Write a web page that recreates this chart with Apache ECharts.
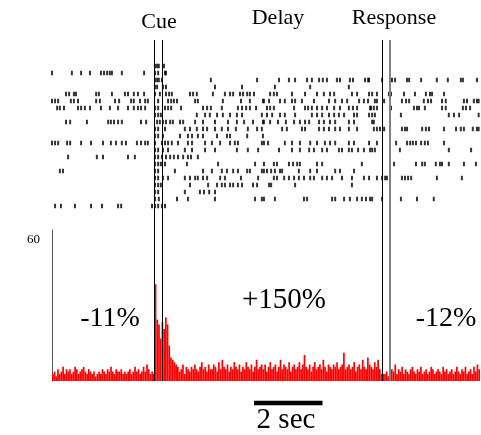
<!DOCTYPE html>
<html>
<head>
<meta charset="utf-8">
<script src="https://cdn.jsdelivr.net/npm/echarts@6/dist/echarts.min.js"></script>
<style>
  html, body { margin: 0; padding: 0; background: #fff; }
  #rasterChart { width: 481px; height: 435px; }
</style>
</head>
<body>
<div id="rasterChart"></div>
<script>
  // spike times (s from start of the window), one list per trial, top to bottom
  var trialSpikes = [
    [3.01, 3.07, 3.12, 3.27],
    [0.00, 0.58, 0.85, 1.11, 1.43, 1.52, 1.61, 1.69, 1.75, 2.04, 2.69, 3.01, 3.10, 3.30, 3.33],
    [3.01, 3.07, 3.12, 3.21, 4.64, 5.99, 6.63, 6.92, 7.10, 7.45, 7.59, 7.80, 7.91, 8.03, 8.32, 8.41, 8.70, 8.79, 9.14, 9.23, 9.26, 9.64, 9.93, 10.02, 10.37, 10.43, 10.78, 11.24, 11.56, 11.94, 12.00, 12.41],
    [3.01, 3.07, 3.24, 3.33, 4.76, 5.55, 6.51, 7.54, 8.67],
    [0.41, 0.50, 0.64, 0.70, 1.29, 1.37, 1.75, 2.13, 2.22, 2.39, 2.51, 2.69, 3.01, 3.15, 3.33, 3.42, 3.50, 4.03, 4.12, 4.23, 4.70, 5.05, 5.20, 5.29, 5.49, 5.58, 5.70, 5.78, 5.90, 6.37, 6.48, 6.57, 7.01, 7.39, 7.74, 7.94, 8.12, 8.24, 8.76, 8.91, 9.26, 9.35, 9.49, 9.84, 9.90, 10.28, 10.60, 10.92, 11.04, 11.10, 11.45],
    [0.00, 0.09, 0.18, 0.55, 0.64, 0.76, 1.29, 1.40, 1.84, 1.96, 2.31, 2.39, 2.57, 2.72, 2.80, 3.10, 3.39, 3.48, 3.56, 3.65, 4.18, 4.26, 4.99, 5.52, 5.78, 6.16, 6.19, 6.34, 6.66, 6.80, 7.01, 7.10, 7.30, 7.65, 8.09, 8.27, 8.47, 8.62, 8.97, 9.11, 9.23, 9.43, 9.49, 9.70, 10.22, 10.34, 10.43, 10.86, 10.98, 11.07, 11.39, 11.50, 12.03, 12.12, 12.32, 12.41, 12.46],
    [0.15, 0.23, 0.35, 0.76, 0.85, 0.96, 1.11, 1.43, 1.69, 1.93, 2.22, 2.39, 2.51, 2.60, 2.72, 3.01, 3.10, 3.30, 3.39, 3.48, 3.77, 4.41, 4.53, 4.64, 4.96, 5.43, 5.55, 5.67, 5.78, 5.96, 6.28, 6.37, 6.48, 7.07, 7.39, 7.48, 7.59, 7.74, 7.89, 8.03, 8.24, 8.41, 8.67, 8.79, 8.91, 9.29, 9.32, 9.40, 9.49, 9.90, 10.57, 10.66, 10.72, 10.89, 11.39, 11.50, 12.00, 12.09, 12.21],
    [3.01, 3.10, 3.18, 4.23, 4.47, 4.61, 4.82, 4.99, 5.20, 5.40, 5.55, 6.13, 6.28, 6.43, 6.66, 6.80, 7.10, 7.59, 7.74, 7.89, 8.09, 8.24, 8.38, 8.53, 8.82, 8.91, 9.26, 9.35, 9.43, 10.19, 11.59, 11.74, 11.89, 12.46],
    [0.41, 0.53, 1.02, 1.64, 1.72, 1.81, 1.93, 2.04, 2.60, 2.75, 3.07, 3.15, 3.24, 3.33, 3.45, 3.53, 3.74, 3.83, 4.18, 4.41, 4.76, 5.14, 5.40, 5.61, 5.87, 6.16, 6.19, 6.37, 6.60, 6.83, 7.07, 7.24, 7.39, 7.51, 7.80, 7.94, 8.12, 8.27, 8.67, 8.82, 9.35, 9.40],
    [3.01, 3.10, 3.30, 3.88, 4.03, 4.23, 4.41, 4.53, 4.76, 4.96, 5.14, 5.37, 5.72, 5.99, 6.13, 6.72, 6.86, 7.30, 7.39, 7.80, 7.94, 8.09, 8.27, 8.41, 8.67, 8.91, 9.40, 9.49, 9.58, 9.70, 10.22, 10.31, 10.37, 10.81, 10.92, 11.01, 11.45, 11.80, 11.94, 12.03, 12.29, 12.41, 12.46],
    [3.01, 3.10, 3.24, 3.74, 3.97, 4.09, 4.26, 4.41, 4.82, 5.11, 5.20, 5.70, 6.16],
    [0.00, 0.09, 0.18, 0.44, 0.53, 0.85, 1.14, 1.49, 1.72, 1.87, 2.04, 2.16, 2.48, 2.60, 2.72, 2.80, 3.01, 3.21, 3.30, 3.39, 3.50, 3.68, 3.97, 4.09, 4.47, 4.67, 4.91, 5.20, 5.34, 5.43, 6.13, 6.19, 6.31, 6.80, 7.01, 7.24, 7.54, 7.74, 7.97, 8.12, 8.27, 8.67, 8.82, 9.26, 9.49, 10.05, 10.37, 10.46, 10.54, 10.63, 10.78, 10.89, 10.98, 11.45],
    [3.01, 3.10, 3.24, 3.39, 3.88, 4.09, 4.47, 4.76, 5.40, 5.72, 6.02, 6.63, 7.01, 7.24, 7.51, 7.65, 7.89, 8.03, 8.38, 8.47, 8.67, 8.76, 8.94, 9.11, 9.29, 9.35, 9.43, 10.16, 11.59, 12.24],
    [0.47, 1.31, 1.49, 2.22, 2.42, 3.01, 3.10, 3.21, 3.33, 3.45, 3.56, 3.68, 3.83, 3.97, 4.06, 4.26],
    [3.01, 3.10, 3.18, 3.30, 3.94, 4.85, 5.93, 6.19, 6.48, 6.57, 6.92, 7.04, 7.16, 7.24, 7.74, 7.89, 9.05, 9.99, 10.63, 10.81, 10.89, 11.21, 11.33, 11.39, 11.59, 12.03, 12.38],
    [0.23, 0.32, 3.01, 3.10, 3.59, 4.41, 4.67, 4.96, 5.11, 5.29, 5.43, 5.70, 5.78, 6.13, 6.19, 6.28, 6.40, 6.51, 6.66, 6.72, 7.21, 7.54, 7.74, 8.27, 8.41, 8.82],
    [3.01, 3.10, 3.24, 3.39, 3.88, 4.03, 4.18, 4.26, 4.41, 4.53, 4.91, 5.05, 5.52, 6.02, 6.48, 6.57, 6.78, 6.92, 7.07, 7.21, 7.36, 7.54, 7.65, 7.89, 8.03, 8.18, 8.47, 8.76, 9.11, 9.26, 9.49, 9.64, 9.73, 9.78, 10.22, 10.31, 10.40, 10.49, 11.24, 11.97],
    [3.01, 3.10, 3.18, 4.03, 4.56, 4.82, 4.96, 5.05, 5.20, 5.29, 5.43, 5.55, 5.87, 5.99, 6.34, 6.40, 7.10, 8.76],
    [3.01, 3.10, 3.88, 4.32, 4.44, 4.59, 4.76],
    [3.01, 3.12, 3.65, 3.97, 4.76, 5.93, 6.13, 6.19, 6.51, 7.36, 7.45, 8.18, 8.27, 8.53, 8.70, 8.91, 9.05, 9.17, 9.29, 9.35, 9.64, 10.19, 10.66, 11.15],
    [0.09, 0.26, 0.67, 1.14, 1.46, 1.93, 2.02, 2.92, 3.01, 3.10, 3.21, 3.30]
  ]

  // firing rate (spikes/s), 50 ms bins
  var psthRate = [
    3, 4, 2, 5, 3, 4, 6, 3, 5, 4,
    5, 3, 4, 6, 5, 3, 4, 5, 6, 4,
    3, 5, 4, 3, 4, 2, 3, 4, 3, 5,
    4, 3, 5, 4, 6, 4, 3, 5, 4, 4,
    5, 3, 4, 3, 4, 5, 3, 4, 6, 4,
    5, 3, 4, 6, 4, 7, 5, 3, 4, 3,
    41, 26, 24, 18, 25, 22, 27, 24, 15, 10, 9, 8, 7,
    6, 4, 5, 7, 3, 6, 5, 4, 6, 5,
    7, 5, 4, 6, 8, 5, 6, 4, 7, 5,
    5, 7, 6, 4, 8, 5, 9, 6, 5, 7,
    4, 6, 5, 8, 6, 5, 7, 4, 6, 5,
    8, 6, 5, 7, 4, 6, 9, 5, 6, 7,
    5, 7, 4, 6, 8, 5, 6, 7, 4, 6,
    9, 5, 7, 6, 5, 8, 4, 6, 7, 5,
    6, 8, 5, 7, 11, 6, 5, 7, 4, 6,
    8, 5, 6, 7, 5, 9, 6, 4, 7, 6,
    5, 7, 6, 8, 5, 6, 7, 12, 5, 6,
    7, 5, 6, 8, 4, 6, 7, 5, 9, 6,
    5, 10, 7, 6, 5, 8, 6, 9, 5, 3,
    3, 3, 4, 2, 6, 5, 4, 7, 3, 5,
    4, 6, 3, 5, 4, 3, 5, 6, 4, 3,
    5, 4, 6, 3, 4, 5, 3, 4, 6, 5,
    3, 4, 5, 4, 3, 6, 4, 5, 3, 4,
    5, 3, 4, 6, 4, 3, 5, 4, 6, 3,
    4, 5, 3, 6, 4, 7, 5
  ]
  var binSize = 0.05
  var windowEnd = 12.5

  var cueTimes = [2.98, 3.21]
  var responseTimes = [9.64, 9.87]
  var scaleBar = [5.9, 7.9]   // 2 sec
  var epochLabels = ['-11%', '+150%', '-12%']

  var rasterPoints = []
  for (var i = 0; i < trialSpikes.length; i++) {
    for (var j = 0; j < trialSpikes[i].length; j++) {
      rasterPoints.push([trialSpikes[i][j], i + 1])
    }
  }
  var binLabels = psthRate.map(function (v, k) { return (k * binSize).toFixed(2) })

  var serif = '"Liberation Serif", "DejaVu Serif", serif'
  var hiddenValueX = function (idx) {
    return { type: 'value', gridIndex: idx, min: 0, max: windowEnd, show: false }
  }
  var hiddenY = function (idx, min, max) {
    return { type: 'value', gridIndex: idx, min: min, max: max, show: false }
  }

  var chart = echarts.init(document.getElementById('rasterChart'))
  chart.setOption({
    animation: false,
    grid: [
      { left: 52, width: 428, top: 62.5, height: 147 },   // raster
      { left: 52, width: 428, top: 230, height: 151 },    // psth
      { left: 52, width: 428, top: 40, height: 341 },     // event lines
      { left: 52, width: 428, top: 398, height: 10 }      // scale bar
    ],
    xAxis: [
      hiddenValueX(0),
      {
        type: 'category', gridIndex: 1, data: binLabels, boundaryGap: true,
        axisLine: { show: false }, axisTick: { show: false }, axisLabel: { show: false }
      },
      hiddenValueX(2),
      hiddenValueX(3)
    ],
    yAxis: [
      { type: 'value', gridIndex: 0, min: 0.5, max: trialSpikes.length + 0.5, inverse: true, show: false },
      {
        type: 'value', gridIndex: 1, min: 0, max: 64, interval: 60,
        splitLine: { show: false },
        axisTick: { show: false },
        axisLine: { show: true, lineStyle: { color: '#555', width: 1 } },
        axisLabel: {
          margin: 12, color: '#000', fontFamily: serif, fontSize: 13,
          formatter: function (v) { return v === 60 ? '60' : '' }
        }
      },
      hiddenY(2, 0, 1),
      hiddenY(3, 0, 1)
    ],
    series: [
      {
        type: 'scatter', xAxisIndex: 0, yAxisIndex: 0,
        symbol: 'rect', symbolSize: [2, 4.5],
        itemStyle: { color: '#000' },
        data: rasterPoints
      },
      {
        type: 'bar', xAxisIndex: 1, yAxisIndex: 1,
        barCategoryGap: '0%',
        itemStyle: { color: '#ff0000' },
        data: psthRate
      },
      {
        type: 'line', xAxisIndex: 2, yAxisIndex: 2, data: [],
        markLine: {
          silent: true, symbol: 'none', label: { show: false },
          data: [
            { xAxis: cueTimes[0], lineStyle: { color: '#000', width: 1, type: 'solid' } },
            { xAxis: cueTimes[1], lineStyle: { color: '#000', width: 1, type: 'solid' } },
            { xAxis: responseTimes[0], lineStyle: { color: '#000', width: 1, type: 'solid' } },
            { xAxis: responseTimes[1], lineStyle: { color: '#808080', width: 2, type: 'solid' } }
          ]
        }
      },
      {
        type: 'line', xAxisIndex: 3, yAxisIndex: 3, symbol: 'none',
        lineStyle: { color: '#000', width: 4.5 },
        data: [[scaleBar[0], 0.5], [scaleBar[1], 0.5]]
      }
    ],
    graphic: [
      { type: 'text', x: 159, y: 22.5, style: { text: 'Cue', font: '22px ' + serif, fill: '#000', textAlign: 'center', textVerticalAlign: 'middle' } },
      { type: 'text', x: 278, y: 18.5, style: { text: 'Delay', font: '22px ' + serif, fill: '#000', textAlign: 'center', textVerticalAlign: 'middle' } },
      { type: 'text', x: 394, y: 18.5, style: { text: 'Response', font: '22px ' + serif, fill: '#000', textAlign: 'center', textVerticalAlign: 'middle' } },
      { type: 'text', x: 110, y: 318.5, style: { text: epochLabels[0], font: '28px ' + serif, fill: '#000', textAlign: 'center', textVerticalAlign: 'middle' } },
      { type: 'text', x: 284, y: 300, style: { text: epochLabels[1], font: '29px ' + serif, fill: '#000', textAlign: 'center', textVerticalAlign: 'middle' } },
      { type: 'text', x: 446, y: 318.5, style: { text: epochLabels[2], font: '28px ' + serif, fill: '#000', textAlign: 'center', textVerticalAlign: 'middle' } },
      { type: 'text', x: 286, y: 420, style: { text: '2 sec', font: '29px ' + serif, fill: '#000', textAlign: 'center', textVerticalAlign: 'middle' } }
    ]
  })
</script>
</body>
</html>
